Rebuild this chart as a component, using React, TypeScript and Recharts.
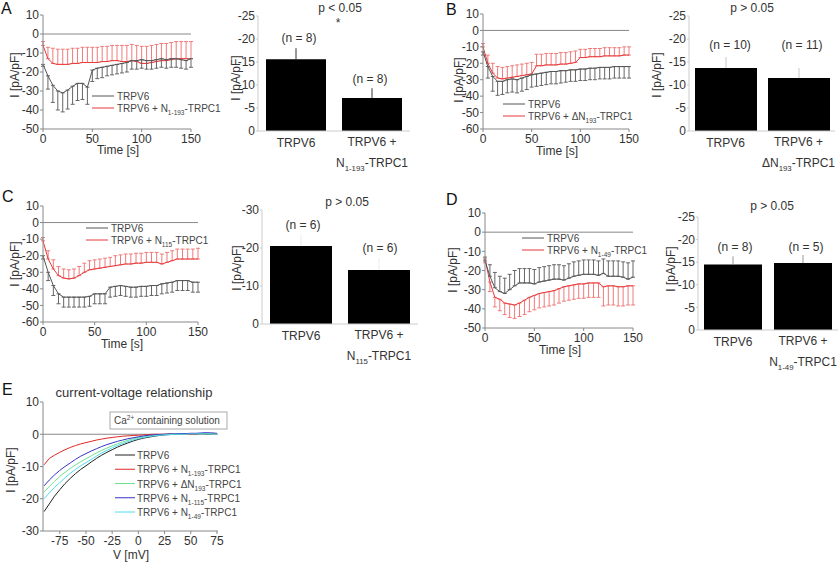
import React from 'react';
import { LineChart, Line, BarChart, Bar, XAxis, YAxis, ErrorBar, ReferenceLine } from 'recharts';

const FONT = '"Liberation Sans", Arial, sans-serif';
const INK = '#333';
const AXIS = '#888';
const GREY_LINE = '#555';
const GREY_ERR = '#666';
const RED_LINE = '#e8383a';
const RED_ERR = '#f07a7a';

// time courses, sampled every 5 s
const time = [0, 5, 10, 15, 20, 25, 30, 35, 40, 45, 50, 55, 60, 65, 70, 75, 80, 85, 90, 95, 100, 105, 110, 115, 120, 125, 130, 135, 140, 145, 150];

const aTrpv6 = [-16, -22, -27, -30, -31, -29.5, -27.5, -26, -26, -28, -19, -18, -17.5, -17, -16.5, -16, -15.5, -15, -14, -14, -13.5, -14, -14, -13.5, -13, -13.5, -13, -13, -13.5, -14, -13];
const aTrpv6Err = [1, 7, 9, 10, 10, 10, 9.5, 9, 8.5, 9, 6, 5.5, 5.5, 5, 5, 5, 5, 5, 4.5, 4.5, 4.5, 4.5, 4.5, 4.5, 4.5, 4.5, 4.5, 4.5, 4.5, 4.5, 4.5];
const aN193 = [-6, -13, -15.5, -16, -16, -16, -15.5, -15.5, -15, -15, -15, -15, -14.5, -14.5, -14, -14, -14.5, -14.5, -14, -14.5, -15.5, -15.5, -15, -14.5, -14, -14, -13.5, -13, -13, -13, -13];
const aN193Err = [2, 6, 8, 8, 8, 8, 8, 8, 8, 8, 8, 8, 8, 8, 8, 8, 8.5, 8.5, 8.5, 8.5, 9, 9, 9, 9, 9, 9, 9, 9, 9, 9, 9];

const bTrpv6 = [-13, -22, -28, -31, -31, -30, -29.5, -30, -29, -28, -27, -26.5, -26, -25.5, -25, -25, -24.5, -24.5, -24, -24, -23.5, -23.5, -23, -23, -22.5, -22.5, -22.5, -22, -22, -22, -22];
const bTrpv6Err = [2, 7, 9, 8.5, 8, 8, 8, 8, 8, 8, 7.5, 7.5, 7.5, 7.5, 7.5, 7.5, 7.5, 7, 7, 7, 7, 7, 7, 7, 7, 7, 7, 7, 7, 7, 7];
const bDN193 = [-10, -20, -26, -29, -29.5, -29, -28.5, -28, -27.5, -27, -26.5, -21.5, -21.5, -21, -21, -21, -20.5, -20.5, -20, -19.5, -16.5, -16.5, -16, -16, -16, -15.5, -15.5, -15.5, -15.5, -15, -15];
const bDN193Err = [2, 5, 6, 7, 7, 7, 7, 7, 7, 7, 7, 7, 7, 7, 7, 7, 7, 7, 7, 7, 5, 5, 5, 5, 5, 5, 5, 5, 5, 5, 5];

const cTrpv6 = [-20, -30, -38, -43, -45, -45, -45, -45, -45, -44.5, -43, -43, -43, -39, -38.5, -38, -38.5, -39, -39, -38.5, -38.5, -38, -38, -37, -36.5, -36, -35, -35, -35, -36, -36];
const cTrpv6Err = [2, 5, 6, 6, 6, 6, 6, 6, 6, 6, 6, 6, 6, 6, 6, 6, 6, 6, 6, 6, 6, 6, 6, 6, 6, 6, 6, 6, 6, 6, 6];
const cN115 = [-11, -22, -28, -32, -33.5, -34, -33.5, -32, -30, -28.5, -28, -27.5, -27, -26.5, -26, -25.5, -25, -25, -24.5, -24.5, -24, -24, -24, -25, -24, -23, -22, -22, -22, -22, -22];
const cN115Err = [2, 5, 5.5, 5.5, 5.5, 5.5, 5.5, 5.5, 5.5, 5.5, 5.5, 5.5, 5.5, 5.5, 6, 6, 6, 6, 6, 6, 6, 6, 6, 6, 6, 6, 6, 6, 6, 6, 6.5];

const dTrpv6 = [-15, -23, -29, -31, -32, -30, -28, -26.5, -26.5, -26.5, -27, -26, -25.5, -25, -24.5, -24.5, -25, -24, -23, -22.5, -22, -22, -22, -22.5, -21.5, -23, -23, -23, -23.5, -24.5, -23.5];
const dTrpv6Err = [2, 6, 8, 8, 8, 8, 8, 7.5, 7.5, 7.5, 7.5, 7.5, 7.5, 7.5, 7.5, 7.5, 7.5, 7.5, 7.5, 7.5, 7.5, 7.5, 7.5, 7.5, 7.5, 8, 8, 8, 8, 8.5, 8.5];
const dN149 = [-14, -26, -34, -35, -37, -37.5, -38, -37, -35.5, -34, -33, -32, -31.5, -31, -30.5, -29.5, -28.5, -28, -27.5, -27, -27, -26.5, -26.5, -26.5, -28.5, -28, -28, -28.5, -28.5, -28, -28];
const dN149Err = [2, 5, 5, 6, 6, 7, 7, 7, 7.5, 7.5, 7.5, 7.5, 7.5, 7.5, 7.5, 7.5, 7.5, 7.5, 7.5, 7.5, 7.5, 7.5, 7.5, 7.5, 10, 10, 10, 10, 10, 10, 10];

// bar summaries
const aCats = ['TRPV6', 'TRPV6 + N_{1-193}-TRPC1'];
const aMeans = [-15.6, -7.2];
const aErrs = [2.4, 2.1];
const aCounts = [8, 8];

const bCats = ['TRPV6', 'TRPV6 + ΔN_{193}-TRPC1'];
const bMeans = [-13.7, -11.5];
const bErrs = [2.4, 2.2];
const bCounts = [10, 11];

const cCats = ['TRPV6', 'TRPV6 + N_{115}-TRPC1'];
const cMeans = [-20.5, -14.2];
const cErrs = [2.9, 3.2];
const cCounts = [6, 6];

const dCats = ['TRPV6', 'TRPV6 + N_{1-49}-TRPC1'];
const dMeans = [-14.5, -14.8];
const dErrs = [1.8, 1.8];
const dCounts = [8, 5];

// current-voltage relationship
const volts = [-90, -85, -80, -75, -70, -65, -60, -55, -50, -45, -40, -35, -30, -25, -20, -15, -10, -5, 0, 5, 10, 15, 20, 25, 30, 35, 40, 45, 50, 55, 60, 65, 70, 75];
const ivTrpv6 = [-24, -21.6, -19.2, -17.2, -15.3, -13.7, -12.2, -10.9, -9.8, -8.6, -7.5, -6.5, -5.6, -4.8, -4.0, -3.3, -2.7, -2.1, -1.6, -1.2, -0.9, -0.6, -0.4, -0.2, -0.1, 0, 0, 0.1, 0.1, 0.1, 0.2, 0.1, 0.1, 0.1];
const ivN193 = [-9.5, -7.5, -6.5, -5.6, -4.8, -4.1, -3.5, -3, -2.6, -2.2, -1.8, -1.5, -1.2, -1, -0.8, -0.6, -0.5, -0.4, -0.3, -0.2, -0.1, 0, 0, 0, 0.1, 0.1, 0, 0.1, -0.1, 0, 0.2, 0.1, 0.3, 0.2];
const ivDN193 = [-18, -16.2, -14.6, -13.1, -11.8, -10.6, -9.5, -8.5, -7.6, -6.7, -5.8, -5, -4.3, -3.6, -3, -2.4, -1.9, -1.4, -1, -0.7, -0.5, -0.3, -0.2, -0.1, 0, 0.1, 0.1, 0.1, 0.2, 0.2, 0.1, 0.2, 0.1, 0.1];
const ivN115 = [-16, -14.2, -12.6, -11.2, -10, -8.9, -7.8, -6.8, -6, -5.2, -4.5, -3.8, -3.2, -2.7, -2.2, -1.8, -1.4, -1.1, -0.8, -0.5, -0.3, -0.2, -0.1, 0, 0.1, 0.1, 0.2, 0.2, 0.3, 0.3, 0.4, 0.5, 0.4, 0.3];
const ivN149 = [-20, -18.2, -16.5, -15, -13.5, -12.1, -10.9, -9.8, -8.8, -7.8, -6.8, -5.8, -5, -4.2, -3.5, -2.9, -2.3, -1.8, -1.3, -1, -0.7, -0.5, -0.3, -0.2, -0.1, 0, 0, 0, 0.1, 0.1, 0.1, 0.1, 0.1, 0];

const ivSeries = [
  { key: 'k', label: 'TRPV6', color: '#222', values: ivTrpv6 },
  { key: 'r', label: 'TRPV6 + N_{1-193}-TRPC1', color: '#e02828', values: ivN193 },
  { key: 'g', label: 'TRPV6 +  ΔN_{193}-TRPC1', color: '#70e090', values: ivDN193 },
  { key: 'b', label: 'TRPV6 + N_{1-115}-TRPC1', color: '#3434c8', values: ivN115 },
  { key: 'c', label: 'TRPV6 + N_{1-49}-TRPC1', color: '#50dcee', values: ivN149 },
];

// black bars go down, red go up unless flipped (panel D)
function timeRows(k: number[], kErr: number[], r: number[], rErr: number[], flip = false) {
  return time.map((t, i) => ({
    t,
    k: k[i],
    kErr: flip ? [0, kErr[i]] : [kErr[i], 0],
    r: r[i],
    rErr: flip ? [rErr[i], 0] : [0, rErr[i]],
  }));
}

function barRows(cats: string[], means: number[], errs: number[]) {
  return cats.map((name, i) => ({ name, v: means[i], e: [errs[i], 0] }));
}

const ivRows = volts.map((v, i) => {
  const row: any = { v };
  ivSeries.forEach((s) => (row[s.key] = s.values[i]));
  return row;
});

function Rich({ text, x, y, size = 12, anchor = 'start', fill = INK }: any) {
  const parts = text.split(/([_^]\{[^}]*\})/).filter((s: string) => s.length > 0);
  let cur = 0;
  return (
    <text x={x} y={y} fontSize={size} textAnchor={anchor} fill={fill} fontFamily={FONT}>
      {parts.map((p: string, i: number) => {
        let target = 0;
        let content = p;
        let fs = size;
        if (p.startsWith('_{')) {
          target = size * 0.3;
          content = p.slice(2, -1);
          fs = size * 0.65;
        } else if (p.startsWith('^{')) {
          target = -size * 0.4;
          content = p.slice(2, -1);
          fs = size * 0.65;
        }
        const dy = target - cur;
        cur = target;
        return (
          <tspan key={i} dy={dy} fontSize={fs}>
            {content}
          </tspan>
        );
      })}
    </text>
  );
}

const tickStyle = { fontSize: 12, fill: INK };

function TimePanel({ x0, yTop, yBot, xRight, domain, ticks, rows }: any) {
  const mTop = 8;
  const yW = 30;
  const xH = 30;
  const mRight = 10;
  return (
    <div style={{ position: 'absolute', left: x0 - yW, top: yTop - mTop }}>
      <LineChart
        width={yW + xRight - x0 + mRight}
        height={mTop + yBot - yTop + xH}
        data={rows}
        margin={{ top: mTop, right: mRight, bottom: 0, left: 0 }}
      >
        <XAxis
          dataKey="t"
          type="number"
          domain={[0, 150]}
          ticks={[0, 50, 100, 150]}
          interval={0}
          height={xH}
          tick={tickStyle}
          tickSize={3}
          tickMargin={2}
          axisLine={{ stroke: AXIS }}
          tickLine={{ stroke: AXIS }}
        />
        <YAxis
          type="number"
          domain={domain}
          ticks={ticks}
          interval={0}
          width={yW}
          allowDataOverflow
          tick={tickStyle}
          tickSize={3}
          tickMargin={1}
          axisLine={{ stroke: AXIS }}
          tickLine={{ stroke: AXIS }}
        />
        <ReferenceLine y={0} stroke={AXIS} />
        <Line dataKey="r" stroke={RED_LINE} strokeWidth={1} dot={false} isAnimationActive={false}>
          <ErrorBar dataKey="rErr" direction="y" width={2} stroke={RED_ERR} strokeWidth={1} isAnimationActive={false} />
        </Line>
        <Line dataKey="k" stroke={GREY_LINE} strokeWidth={1} dot={false} isAnimationActive={false}>
          <ErrorBar dataKey="kErr" direction="y" width={2} stroke={GREY_ERR} strokeWidth={1} isAnimationActive={false} />
        </Line>
      </LineChart>
    </div>
  );
}

function CatTick({ x, y, payload }: any) {
  const lines = String(payload.value).split(' + ');
  if (lines.length === 1) return <Rich text={lines[0]} x={x} y={y + 16} anchor="middle" />;
  return (
    <g>
      <Rich text={lines[0] + ' +'} x={x} y={y + 15} anchor="middle" />
      <Rich text={lines[1]} x={x} y={y + 36} anchor="middle" />
    </g>
  );
}

function BarPanel({ x0, yTop, yBot, xRight, domain, ticks, rows, barSize, errColor }: any) {
  const mTop = 8;
  const yW = 30;
  const xH = 44;
  return (
    <div style={{ position: 'absolute', left: x0 - yW, top: yTop - mTop }}>
      <BarChart
        width={yW + xRight - x0}
        height={mTop + yBot - yTop + xH}
        data={rows}
        margin={{ top: mTop, right: 0, bottom: 0, left: 0 }}
      >
        <XAxis
          dataKey="name"
          height={xH}
          interval={0}
          tickSize={0}
          tickMargin={0}
          tickLine={false}
          axisLine={{ stroke: '#ccc' }}
          tick={(p: any) => <CatTick {...p} />}
        />
        <YAxis
          type="number"
          reversed
          domain={domain}
          ticks={ticks}
          interval={0}
          width={yW}
          allowDataOverflow
          tick={tickStyle}
          tickSize={2}
          tickMargin={1}
          axisLine={{ stroke: '#ccc' }}
          tickLine={{ stroke: '#ccc' }}
        />
        <Bar dataKey="v" fill="#000" barSize={barSize} isAnimationActive={false}>
          <ErrorBar dataKey="e" direction="y" width={0} stroke={errColor} strokeWidth={1} isAnimationActive={false} />
        </Bar>
      </BarChart>
    </div>
  );
}

function IVPanel() {
  const x0 = 43;
  const yTop = 402;
  const yBot = 531;
  const xRight = 218;
  const mTop = 8;
  const yW = 30;
  const xH = 32;
  const mRight = 10;
  return (
    <div style={{ position: 'absolute', left: x0 - yW, top: yTop - mTop }}>
      <LineChart
        width={yW + xRight - x0 + mRight}
        height={mTop + yBot - yTop + xH}
        data={ivRows}
        margin={{ top: mTop, right: mRight, bottom: 0, left: 0 }}
      >
        <XAxis
          dataKey="v"
          type="number"
          domain={[-91, 76]}
          ticks={[-75, -50, -25, 0, 25, 50, 75]}
          interval={0}
          height={xH}
          tick={tickStyle}
          tickSize={3}
          tickMargin={2}
          axisLine={{ stroke: AXIS }}
          tickLine={{ stroke: AXIS }}
        />
        <YAxis
          type="number"
          domain={[-30, 10]}
          ticks={[-30, -20, -10, 0, 10]}
          interval={0}
          width={yW}
          allowDataOverflow
          tick={tickStyle}
          tickSize={3}
          tickMargin={1}
          axisLine={{ stroke: AXIS }}
          tickLine={{ stroke: AXIS }}
        />
        <ReferenceLine y={0} stroke={AXIS} />
        {ivSeries.map((s) => (
          <Line key={s.key} dataKey={s.key} stroke={s.color} strokeWidth={1} dot={false} isAnimationActive={false} />
        ))}
      </LineChart>
    </div>
  );
}

function YTitle({ x, y }: any) {
  return (
    <text x={x} y={y} transform={`rotate(-90, ${x}, ${y})`} textAnchor="middle" dominantBaseline="central" fontSize={12} fill={INK}>
      I [pA/pF]
    </text>
  );
}

function Legend2({ x, y, label, step = 12 }: any) {
  return (
    <g>
      <line x1={x} x2={x + 22} y1={y} y2={y} stroke={GREY_LINE} />
      <Rich text="TRPV6" x={x + 25} y={y + 4} size={10} fill="#444" />
      <line x1={x} x2={x + 22} y1={y + step} y2={y + step} stroke={RED_LINE} />
      <Rich text={label} x={x + 25} y={y + step + 4} size={10} fill="#444" />
    </g>
  );
}

function NLabels({ xs, ys, counts }: any) {
  return (
    <g>
      {counts.map((n: number, i: number) => (
        <text key={i} x={xs[i]} y={ys[i]} textAnchor="middle" fontSize={12} fill={INK}>
          (n = {n})
        </text>
      ))}
    </g>
  );
}

export default function App() {
  return (
    <div style={{ position: 'absolute', left: 0, top: 0, width: 840, height: 563, background: '#fff', fontFamily: FONT, overflow: 'hidden' }}>
      <TimePanel x0={43} yTop={15} yBot={129} xRight={191} domain={[-50, 10]} ticks={[-50, -40, -30, -20, -10, 0, 10]} rows={timeRows(aTrpv6, aTrpv6Err, aN193, aN193Err)} />
      <TimePanel x0={483} yTop={14} yBot={129} xRight={629} domain={[-60, 10]} ticks={[-60, -50, -40, -30, -20, -10, 0, 10]} rows={timeRows(bTrpv6, bTrpv6Err, bDN193, bDN193Err)} />
      <TimePanel x0={43} yTop={206} yBot={322} xRight={198} domain={[-60, 10]} ticks={[-60, -50, -40, -30, -20, -10, 0, 10]} rows={timeRows(cTrpv6, cTrpv6Err, cN115, cN115Err)} />
      <TimePanel x0={485} yTop={213} yBot={328} xRight={633} domain={[-50, 10]} ticks={[-50, -40, -30, -20, -10, 0, 10]} rows={timeRows(dTrpv6, dTrpv6Err, dN149, dN149Err, true)} />

      <BarPanel x0={258} yTop={16} yBot={131} xRight={410} domain={[-25, 0]} ticks={[-25, -20, -15, -10, -5, 0]} rows={barRows(aCats, aMeans, aErrs)} barSize={60} errColor="#333" />
      <BarPanel x0={689} yTop={16} yBot={131} xRight={835} domain={[-25, 0]} ticks={[-25, -20, -15, -10, -5, 0]} rows={barRows(bCats, bMeans, bErrs)} barSize={62} errColor="#c8c8c8" />
      <BarPanel x0={262} yTop={210} yBot={324} xRight={418} domain={[-30, 0]} ticks={[-30, -20, -10, 0]} rows={barRows(cCats, cMeans, cErrs)} barSize={62} errColor="#ececec" />
      <BarPanel x0={698} yTop={217} yBot={330} xRight={838} domain={[-25, 0]} ticks={[-25, -20, -15, -10, -5, 0]} rows={barRows(dCats, dMeans, dErrs)} barSize={58} errColor="#999" />

      <IVPanel />

      <svg width={840} height={563} style={{ position: 'absolute', left: 0, top: 0, pointerEvents: 'none' }} fontFamily={FONT}>
        <text x={1} y={14} fontSize={16} fill="#111">A</text>
        <text x={446} y={15} fontSize={16} fill="#111">B</text>
        <text x={2} y={202} fontSize={16} fill="#111">C</text>
        <text x={446} y={205} fontSize={16} fill="#111">D</text>
        <text x={2} y={395} fontSize={16} fill="#111">E</text>

        <YTitle x={15} y={75} />
        <YTitle x={236} y={78} />
        <YTitle x={459} y={80} />
        <YTitle x={657} y={75} />
        <YTitle x={15} y={264} />
        <YTitle x={237} y={268} />
        <YTitle x={453} y={270} />
        <YTitle x={671} y={269} />
        <YTitle x={11} y={470} />

        <text x={118} y={154} textAnchor="middle" fontSize={12} fill={INK}>Time [s]</text>
        <text x={557} y={155} textAnchor="middle" fontSize={12} fill={INK}>Time [s]</text>
        <text x={122} y={348} textAnchor="middle" fontSize={12} fill={INK}>Time [s]</text>
        <text x={560} y={354} textAnchor="middle" fontSize={12} fill={INK}>Time [s]</text>
        <text x={131} y={559} textAnchor="middle" fontSize={12} fill={INK}>V [mV]</text>

        <Legend2 x={92} y={96} label={aCats[1]} />
        <Legend2 x={503} y={104} label={bCats[1]} />
        <Legend2 x={86} y={228} label={cCats[1]} />
        <Legend2 x={522} y={238} label={dCats[1]} />

        <text x={340} y={12} textAnchor="middle" fontSize={12} fill={INK}>p &lt; 0.05</text>
        <text x={338} y={27} textAnchor="middle" fontSize={12} fill={INK}>*</text>
        <text x={752} y={12} textAnchor="middle" fontSize={12} fill={INK}>p &gt; 0.05</text>
        <text x={347} y={206} textAnchor="middle" fontSize={12} fill={INK}>p &gt; 0.05</text>
        <text x={772} y={210} textAnchor="middle" fontSize={12} fill={INK}>p &gt; 0.05</text>

        <NLabels xs={[299, 370]} ys={[42, 83]} counts={aCounts} />
        <NLabels xs={[730, 802]} ys={[49, 49]} counts={bCounts} />
        <NLabels xs={[303, 380]} ys={[229, 252]} counts={cCounts} />
        <NLabels xs={[735, 806]} ys={[251, 251]} counts={dCounts} />

        <text x={134} y={397} textAnchor="middle" fontSize={13} fill={INK}>current-voltage relationship</text>
        <rect x={110} y={412} width={117} height={17} fill="#fff" stroke="#aaa" />
        <Rich text="Ca^{2+} containing solution" x={114} y={424} size={10} fill="#444" />
        {ivSeries.map((s, i) => (
          <g key={s.key}>
            <line x1={115} x2={135} y1={455 + i * 14.25} y2={455 + i * 14.25} stroke={s.color} />
            <Rich text={s.label} x={137} y={459 + i * 14.25} size={10} fill="#444" />
          </g>
        ))}
      </svg>
    </div>
  );
}
